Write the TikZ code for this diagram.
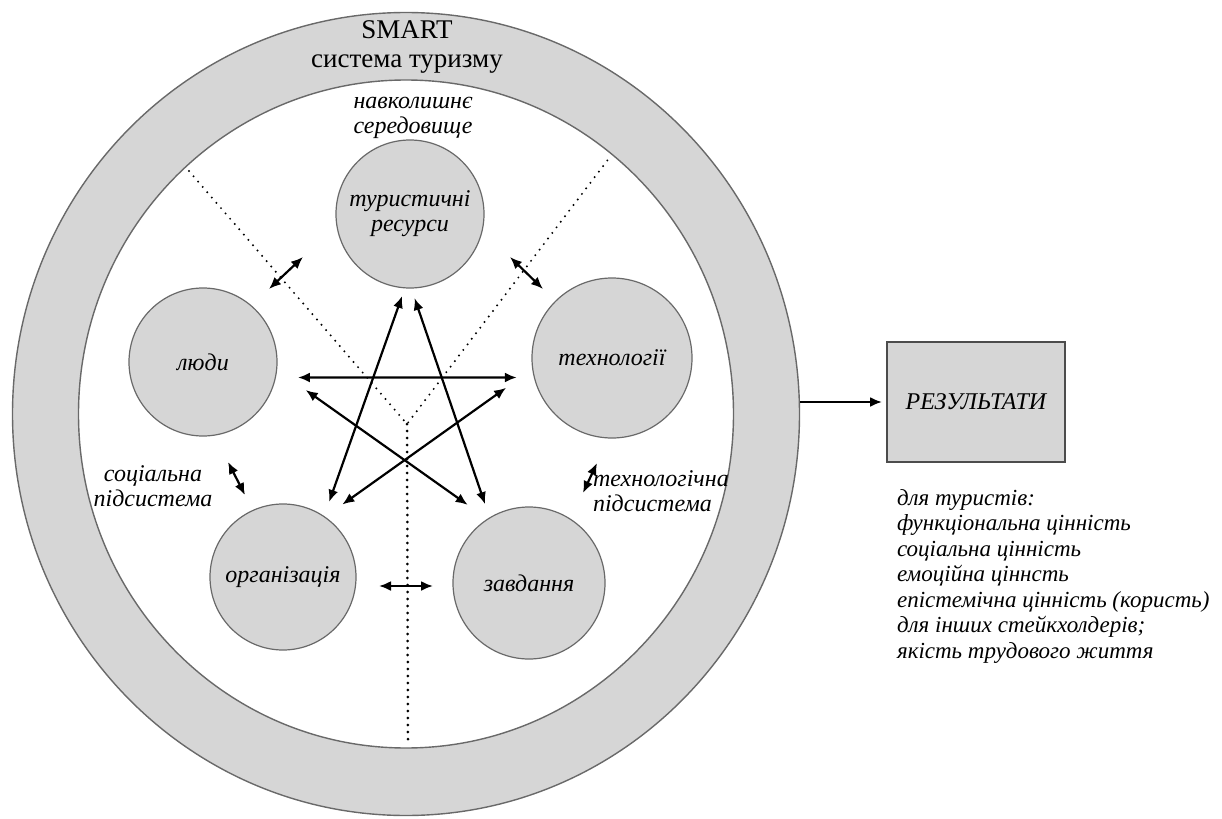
\documentclass[tikz,border=0pt]{standalone}
\usepackage{fontspec}
\setmainfont{Liberation Serif}
\usetikzlibrary{arrows.meta,shapes.geometric}
\definecolor{ringgray}{RGB}{214,214,214}
\definecolor{edgegray}{RGB}{105,105,105}
\newcommand{\itlab}{\fontsize{12}{12.5}\selectfont\itshape}
\tikzset{
	sub/.style={circle,draw=edgegray,fill=ringgray,line width=0.6pt,inner sep=0pt,minimum size=#1,font=\itlab,align=center},
	link/.style={<->,>={Latex[length=6pt,width=5pt]},line width=1.1pt},
	dots/.style={line width=#1,dash pattern=on 0pt off 3.5pt,line cap=round},
}
\begin{document}
\begin{tikzpicture}[x=0.5pt,y=-0.5pt]
	\useasboundingbox (0,0) rectangle (1222,819);
	% ring of the smart system
	\node[ellipse,draw=edgegray,fill=ringgray,line width=0.7pt,inner sep=0pt,minimum width=393.5pt,minimum height=401.5pt] (ring) at (406,414) {};
	\node[ellipse,draw=edgegray,fill=white,line width=0.7pt,inner sep=0pt,minimum width=327.5pt,minimum height=334pt] (inner) at (406,414) {};
	\node[font=\fontsize{13.5}{14.5}\selectfont,align=center] (smart) at (407,47) {SMART\\система туризму};
	% boundaries of the subsystems
	\coordinate (hub) at (407,424);
	\coordinate (dl) at (189,171);
	\coordinate (dr) at (610,157);
	\coordinate (db) at (408,740);
	\draw[dots=1.1pt] (dl) -- (hub) -- (dr);
	\draw[dots=1.5pt] (hub) -- (db);
	% elements
	\node[sub=74pt] (tur) at (410,214) {туристичні\\ресурси};
	\node[sub=74pt] (ludy) at (203,362) {люди};
	\node[sub=80pt] (tekh) at (612,358) {технології};
	\node[sub=73pt] (org) at (283,577) {організація};
	\node[sub=76pt] (zavd) at (529,583) {завдання};
	% star of links
	\draw[link,shorten <=11pt,shorten >=8.5pt] (ludy.-12) -- (tekh.194);
	\draw[link,shorten <=17.5pt,shorten >=12pt] (ludy.-6) -- (zavd.123);
	\draw[link,shorten <=16pt,shorten >=10.5pt] (tekh.188) -- (org.55);
	\draw[link,shorten <=4pt,shorten >=7.5pt] (tur.-94) -- (org.56);
	\draw[link,shorten <=5pt,shorten >=7pt] (tur.-89) -- (zavd.121);
	% links across the boundaries
	\coordinate (tl1) at (303,257); \coordinate (tl2) at (269,289);
	\coordinate (tr1) at (510,257); \coordinate (tr2) at (543,289);
	\coordinate (bl1) at (228,462); \coordinate (bl2) at (245,495);
	\coordinate (br1) at (597,463); \coordinate (br2) at (583,493);
	\coordinate (bc1) at (379,586); \coordinate (bc2) at (433,586);
	\draw[link] (tl1) -- (tl2);
	\draw[link] (tr1) -- (tr2);
	\draw[link] (bl1) -- (bl2);
	\draw[link] (br1) -- (br2);
	\draw[link] (bc1) -- (bc2);
	% labels
	\node[font=\itlab,align=center] (env) at (413,118) {навколишнє\\середовище};
	\node[font=\itlab,align=center] (soc) at (153,486) {соціальна\\підсистема};
	\node[font=\itlab,align=left,anchor=west] (tech) at (586,491) {технологічна\\підсистема};
	% results
	\node[draw=black!70,fill=ringgray,line width=1pt,minimum width=89pt,minimum height=60pt,font=\itlab] (rez) at (976,402) {РЕЗУЛЬТАТИ};
	\draw[->,>={Latex[length=6pt,width=5pt]},line width=1.1pt,shorten >=2pt] (rez.west -| ring.east) -- (rez.west);
	\node[font=\fontsize{11.5}{12.75}\selectfont\itshape,align=left,anchor=north west] (val) at (890,482) {для туристів:\\функціональна цінність\\соціальна цінність\\емоційна ціннсть\\епістемічна цінність (користь)\\для інших стейкхолдерів;\\якість трудового життя};
\end{tikzpicture}
\end{document}
